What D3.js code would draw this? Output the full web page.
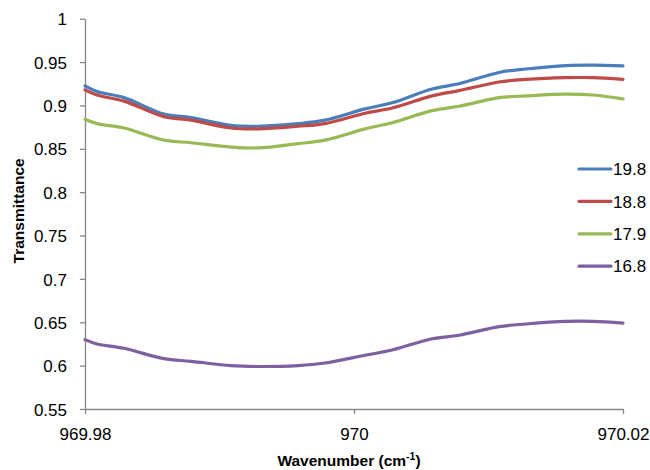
<!DOCTYPE html>
<html>
<head>
<meta charset="utf-8">
<script src="https://cdn.jsdelivr.net/npm/d3@7"></script>
<style>
  html, body { margin: 0; padding: 0; background: #fff; }
  svg { display: block; }
</style>
</head>
<body>
<svg id="chart" width="650" height="470"></svg>
<script>
// ---- data ----
const wavenumber = [969.98, 969.98089, 969.9829, 969.98587, 969.98788, 969.99086, 969.99286, 969.99584, 969.99784,
                    970.00082, 970.00283, 970.0058, 970.0078, 970.01078, 970.01279, 970.01576, 970.01777, 970.02];
const t198 = [0.9225, 0.916, 0.909, 0.890, 0.886, 0.877, 0.876, 0.879, 0.883, 0.896, 0.903, 0.919, 0.925, 0.938, 0.942, 0.946, 0.9465, 0.9455];
const t188 = [0.918, 0.912, 0.905, 0.887, 0.883, 0.874, 0.873, 0.876, 0.879, 0.891, 0.897, 0.911, 0.917, 0.927, 0.930, 0.932, 0.932, 0.930];
const t179 = [0.884, 0.879, 0.874, 0.860, 0.857, 0.852, 0.851, 0.856, 0.860, 0.873, 0.880, 0.894, 0.899, 0.909, 0.911, 0.913, 0.912, 0.9075];
const t168 = [0.630, 0.625, 0.620, 0.608, 0.605, 0.600, 0.599, 0.600, 0.603, 0.612, 0.618, 0.631, 0.635, 0.645, 0.648, 0.651, 0.651, 0.649];
const seriesNames = ["19.8", "18.8", "17.9", "16.8"];
const seriesColors = ["#4A7EBB", "#BE4B48", "#98B954", "#7D60A0"];
const xTickValues = [969.98, 970, 970.02];
const xTickLabels = ["969.98", "970", "970.02"];
const yTickValues = [0.55, 0.6, 0.65, 0.7, 0.75, 0.8, 0.85, 0.9, 0.95, 1];
const yTickLabels = ["0.55", "0.6", "0.65", "0.7", "0.75", "0.8", "0.85", "0.9", "0.95", "1"];

const seriesValues = [t198, t188, t179, t168];

// ---- layout ----
const svg = d3.select("#chart");
const mLeft = 85, mRight = 623, mTop = 18.7, mBottom = 409;
const font = "'Liberation Sans', Arial, sans-serif";
const axisColor = "#868686";
const tickFont = 17;

const x = d3.scaleLinear().domain([969.98, 970.02]).range([mLeft, mRight]);
const y = d3.scaleLinear().domain([0.55, 1]).range([mBottom, mTop]);

// y axis
const yAxis = svg.append("g").attr("transform", `translate(${mLeft},0)`)
  .call(d3.axisLeft(y).tickValues(yTickValues)
    .tickFormat((d, i) => yTickLabels[i]).tickSize(5).tickSizeOuter(0).tickPadding(13));
yAxis.select(".domain").attr("stroke", axisColor).attr("stroke-width", 1.3);
yAxis.selectAll(".tick line").attr("stroke", axisColor).attr("stroke-width", 1.3);
yAxis.selectAll(".tick text").attr("font-family", font).attr("font-size", tickFont).attr("fill", "#000").attr("dy", "0.36em");

// x axis
const xAxis = svg.append("g").attr("transform", `translate(0,${mBottom})`)
  .call(d3.axisBottom(x).tickValues(xTickValues)
    .tickFormat((d, i) => xTickLabels[i]).tickSize(5).tickSizeOuter(0).tickPadding(14));
xAxis.select(".domain").attr("stroke", axisColor).attr("stroke-width", 1.3);
xAxis.selectAll(".tick line").attr("stroke", axisColor).attr("stroke-width", 1.3);
xAxis.selectAll(".tick text").attr("font-family", font).attr("font-size", tickFont).attr("fill", "#000");

// lines
const line = d3.line()
  .x((d, i) => x(wavenumber[i]))
  .y(d => y(d))
  .curve(d3.curveCatmullRom.alpha(0.5));

seriesValues.forEach((vals, k) => {
  svg.append("path")
    .attr("d", line(vals))
    .attr("fill", "none")
    .attr("stroke", seriesColors[k])
    .attr("stroke-width", 3.2)
    .attr("stroke-linejoin", "round")
    .attr("stroke-linecap", "round");
});

// axis titles
const xt = svg.append("text")
  .attr("x", 349).attr("y", 466)
  .attr("text-anchor", "middle")
  .attr("font-family", font).attr("font-size", 15.5).attr("font-weight", "bold");
xt.append("tspan").text("Wavenumber (cm");
xt.append("tspan").attr("dy", -6).attr("font-size", 10.5).text("-1");
xt.append("tspan").attr("dy", 6).text(")");

svg.append("text")
  .attr("transform", `translate(24,${(mTop + mBottom) / 2 - 3}) rotate(-90)`)
  .attr("text-anchor", "middle")
  .attr("font-family", font).attr("font-size", 15.5).attr("font-weight", "bold")
  .text("Transmittance");

// legend
const legend = svg.append("g");
seriesNames.forEach((name, k) => {
  const ly = 169 + k * 32.4;
  legend.append("line")
    .attr("x1", 579).attr("x2", 611).attr("y1", ly).attr("y2", ly)
    .attr("stroke", seriesColors[k]).attr("stroke-width", 3.2).attr("stroke-linecap", "round");
  legend.append("text")
    .attr("x", 613).attr("y", ly).attr("dy", "0.36em")
    .attr("font-family", font).attr("font-size", tickFont).text(name);
});
</script>
</body>
</html>
